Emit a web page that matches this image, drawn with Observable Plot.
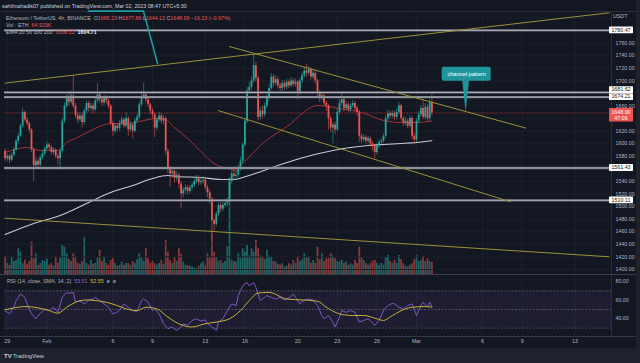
<!DOCTYPE html>
<html>
<head>
<meta charset="utf-8">
<script src="https://cdn.jsdelivr.net/npm/d3@7"></script>
<script src="https://cdn.jsdelivr.net/npm/@observablehq/plot@0.6"></script>
<style>
  html, body { margin:0; padding:0; background:#1e222d; }
  #root { position:relative; width:640px; height:363px; overflow:hidden; background:#1e222d; font-family:"Liberation Sans", Arial, sans-serif; }
  #pane { position:absolute; left:0; top:0; width:636px; height:348px; background:#131722; }
  .layer { position:absolute; left:0; }
  .layer svg { display:block; overflow:visible; }
  .txt { position:absolute; white-space:nowrap; font-size:5.3px; line-height:6px; color:#b2b5be; }
  .r { color:#ef5350; }
  .w { color:#e8e9ec; font-weight:bold; }
  .p { color:#8e6bd0; }
  .yl { color:#d4c13c; }
  .sep { position:absolute; background:#2a2e39; }
</style>
</head>
<body>
<div id="root">
  <div id="pane"></div>
  <div class="sep" style="left:0;top:11px;width:636px;height:1px"></div>
  <div class="sep" style="left:611px;top:11px;width:1px;height:326px"></div>
  <div class="sep" style="left:0;top:274px;width:636px;height:1px;background:#3b3f4b"></div>
  <div class="sep" style="left:0;top:336px;width:636px;height:1px;background:#343844"></div>
  <div class="layer" id="vol" style="top:0"></div>
  <div class="layer" id="main" style="top:0"></div>
  <div class="layer" id="rsi" style="top:275px"></div>
  <div class="txt" id="pub" style="left:2px;top:3px;color:#d1d4dc"></div>
  <div class="txt" id="leg1" style="left:6px;top:14.5px"></div>
  <div class="txt" id="leg2" style="left:6px;top:21.5px"></div>
  <div class="txt" id="leg3" style="left:6px;top:28.5px"></div>
  <div class="txt" id="usdt" style="left:613px;top:13px">USDT</div>
  <div class="txt" id="rsileg" style="left:7px;top:278px"></div>
  <div class="txt" style="left:4px;top:353px;color:#d1d4dc;font-size:5.6px"><b style="font-size:6px">TV</b> TradingView</div>
</div>
<script>
// ---------------- data ----------------
const startTime = Date.UTC(2023, 0, 28, 20); // first 4h candle shown
const step = 4 * 3600 * 1000;
const firstOpen = 1588;

const closes = [1576,1580,1574,1582,1590,1604,1612,1628,1650,1638,
 1632,1622,1590,1565,1572,1566,1578,1584,1592,1598,
 1594,1586,1590,1580,1576,1588,1636,1660,1672,1666,
 1676,1660,1645,1638,1644,1634,1652,1664,1656,1660,
 1654,1668,1678,1670,1665,1672,1668,1660,1632,1620,
 1628,1624,1632,1638,1628,1640,1622,1630,1620,1636,
 1642,1662,1675,1678,1670,1662,1652,1646,1625,1638,
 1644,1636,1640,1588,1560,1552,1556,1545,1550,1536,
 1520,1526,1530,1524,1530,1534,1540,1546,1538,1540,
 1542,1530,1522,1512,1478,1472,1488,1502,1496,1502,
 1505,1510,1540,1552,1548,1550,1560,1572,1598,1636,
 1684,1690,1700,1724,1704,1642,1652,1646,1660,1672,
 1688,1706,1696,1702,1692,1688,1696,1690,1698,1692,
 1700,1694,1698,1680,1700,1708,1716,1712,1718,1706,
 1712,1700,1680,1672,1676,1664,1660,1640,1625,1630,
 1622,1650,1664,1670,1656,1662,1654,1660,1664,1656,
 1650,1612,1606,1610,1604,1608,1600,1596,1586,1596,
 1602,1604,1612,1640,1648,1644,1648,1642,1650,1660,
 1640,1632,1636,1628,1640,1612,1606,1636,1646,1656,
 1642,1658,1640,1665.23,1648.99];

const highs = [1592,1584,1583,1586,1594,1607,1616,1632,1656,1652,
 1642,1635,1624,1593,1578,1575,1582,1588,1596,1604,
 1601,1597,1594,1592,1584,1592,1640,1665,1678,1680,
 1684,1708,1664,1650,1650,1648,1656,1668,1668,1666,
 1664,1673,1696,1682,1674,1677,1676,1671,1662,1636,
 1632,1632,1637,1643,1641,1648,1643,1635,1633,1640,
 1647,1666,1684,1696,1682,1674,1665,1656,1649,1642,
 1650,1648,1645,1643,1592,1564,1561,1560,1556,1553,
 1540,1531,1535,1534,1534,1538,1544,1550,1549,1546,
 1548,1545,1534,1526,1515,1482,1492,1506,1506,1507,
 1510,1514,1546,1556,1560,1556,1566,1578,1602,1640,
 1690,1698,1706,1743,1730,1708,1658,1660,1665,1678,
 1694,1712,1710,1708,1706,1697,1701,1700,1703,1702,
 1706,1704,1703,1701,1705,1713,1722,1726,1723,1721,
 1718,1716,1703,1684,1681,1679,1668,1663,1644,1634,
 1635,1655,1670,1680,1673,1667,1666,1664,1669,1667,
 1660,1653,1616,1615,1613,1612,1611,1604,1599,1600,
 1606,1608,1616,1645,1654,1652,1653,1652,1656,1666,
 1663,1644,1642,1640,1645,1643,1616,1640,1651,1661,
 1669,1664,1662,1670,1677.86];

const lows = [1571,1572,1568,1571,1579,1588,1600,1610,1625,1634,
 1628,1617,1586,1540,1560,1560,1563,1575,1580,1589,
 1589,1582,1582,1576,1566,1558,1585,1632,1656,1660,
 1662,1656,1640,1632,1634,1625,1630,1648,1650,1652,
 1648,1651,1665,1664,1660,1661,1663,1655,1628,1612,
 1616,1619,1620,1629,1624,1625,1612,1618,1608,1617,
 1632,1639,1659,1670,1665,1657,1646,1640,1610,1621,
 1634,1631,1630,1582,1552,1530,1546,1538,1540,1528,
 1496,1514,1521,1518,1520,1526,1530,1536,1533,1534,
 1536,1526,1514,1504,1462,1461,1468,1484,1490,1492,
 1498,1500,1506,1536,1542,1544,1546,1556,1568,1594,
 1632,1680,1686,1696,1698,1636,1638,1640,1642,1656,
 1668,1684,1690,1692,1687,1683,1684,1685,1686,1688,
 1689,1690,1690,1670,1677,1696,1704,1706,1708,1701,
 1702,1695,1675,1666,1668,1659,1652,1622,1618,1600,
 1615,1619,1646,1660,1651,1652,1649,1650,1656,1651,
 1644,1602,1600,1602,1599,1600,1595,1588,1576,1582,
 1592,1598,1600,1608,1636,1639,1640,1637,1638,1646,
 1636,1627,1628,1624,1625,1606,1598,1602,1632,1642,
 1638,1638,1634,1636,1644.12];

const volumes = [97,60,49,94,70,76,139,121,58,76,
 55,70,175,85,112,49,60,76,70,85,
 50,58,45,94,60,90,157,148,112,80,
 70,112,94,60,55,70,198,58,50,76,
 55,60,90,130,70,94,60,50,76,85,
 60,45,49,67,50,60,58,50,70,60,
 80,112,90,70,139,85,60,70,58,50,
 60,76,55,184,120,76,60,94,70,139,
 110,67,50,49,45,40,35,31,45,58,
 67,50,112,90,238,120,94,70,76,60,
 70,150,520,76,70,67,112,90,139,120,
 157,100,139,120,184,139,100,94,80,130,
 100,94,70,67,55,50,58,40,45,58,
 50,76,60,94,70,80,112,90,94,60,
 76,60,148,80,112,70,85,90,112,100,
 85,70,67,76,60,67,50,58,50,76,
 60,148,90,76,58,50,58,70,76,60,
 49,60,50,94,103,70,60,76,60,103,
 80,58,45,40,50,58,80,103,70,76,
 94,70,85,70,64.919];

const ema50Idx = [0,10,16,24,28,33,39,48,56,63,69,72,77,83,89,95,101,105,108,113,117,124,130,134,142,147,152,162,172,180,187,194];
const ema50Val = [1586.1,1594.1,1589.3,1589.3,1602,1610,1621.1,1632.3,1632.3,1637,1640.2,1640.2,1625.9,1608.4,1587.7,1568.6,1560.7,1557.5,1568.6,1586.1,1600.4,1617.9,1632.3,1645,1660.9,1659.3,1656.1,1649.8,1637,1633.9,1633.9,1636.12];
const ema200Idx = [0,13,25,37,48,58,67,74,78,89,98,104,108,115,124,134,149,157,165,172,180,187,194];
const ema200Val = [1455.7,1473.2,1485.9,1505,1522.5,1533.6,1544.8,1549.5,1548,1546.4,1543.2,1543.2,1546.4,1554.3,1565.4,1576.6,1589.3,1594.1,1597.3,1598.9,1600.4,1602,1604.71];

const rsiIdx = [0,2,4,5,7,9,10,12,14,15,16,18,20,22,24,26,28,29,31,32,34,36,38,40,41,43,45,47,49,51,53,54,56,58,60,62,63,65,67,68,70,72,74,76,78,80,81,83,85,87,89,91,92,94,96,97,99,101,103,105,106,108,110,111,113,114,116,118,119,121,123,125,127,129,131,132,134,136,138,140,142,144,145,147,149,150,152,153,155,157,159,161,163,165,166,168,170,172,174,176,177,179,181,183,185,187,189,190,192,193,194];
const rsiVal = [48.8,45.3,52.4,59.5,66.5,63,56,45.3,40,43.5,45.3,50.6,48.8,52.4,47,63,68.3,67.3,68.3,57.7,59.5,56,60.2,61.2,63,59.5,56,52.4,45.3,47,52.4,56,52.4,48.8,48,59.5,61.2,57.7,48.8,50.6,45.3,34.7,29.4,31.2,27.6,31.2,34.7,33,38.2,40,37.5,38.9,34.7,31.2,27.6,36.5,40,48.8,56,54.2,64.8,75.4,78.9,75.4,78.9,73.6,59.5,63,64.8,63,61.2,63,60.2,62.3,66.5,63,56,60.2,61.2,60.2,54.2,43.5,40,43.5,36.5,31.2,41.8,48.8,47,48.8,47,36.5,38.2,40,38.2,33,38.2,48.8,54.2,56.6,56,52.4,50.6,54.2,56,43.5,54.2,57.7,52.4,57.7,53.51];
const smaIdx = [0,4,9,15,20,24,28,32,37,41,46,51,55,60,64,69,74,80,85,91,96,102,107,111,115,120,128,135,142,146,152,158,163,169,172,176,182,185,191,194];
const smaVal = [49.6,51.7,53.1,51.7,48.8,46,52.4,57.7,60.2,59.5,57.7,54.2,50.6,48.8,52.4,50.6,41.8,33.6,31.2,34.7,36.5,40,48.8,59.5,67.6,68.3,61.2,60.2,58.8,52.4,45.3,43.5,43.5,40,38.2,43.5,50.6,52.4,53.1,52.55];

const levels = [1780.47, 1681.62, 1674.21, 1561.43, 1510.11];
const priceTicks = [1400,1420,1440,1460,1480,1500,1520,1540,1580,1600,1620,1660,1700,1720,1740,1760];
const gridPrices = [1400,1420,1440,1460,1480,1500,1520,1540,1560,1580,1600,1620,1640,1660,1680,1700,1720,1740,1760,1780,1800];
const rsiTicks = [40, 60, 80];
const rsiBands = [70, 50, 30];

const dateTicks = ["2023-01-29","2023-02-01","2023-02-06","2023-02-09","2023-02-13","2023-02-16","2023-02-20","2023-02-23","2023-02-26","2023-03-01","2023-03-06","2023-03-09","2023-03-13"];
const dateLabels = ["29","Feb","6","9","13","16","20","23","26","Mar","6","9","13"];

// drawings (trend lines: start / end in time & price)
const trendT1 = ["2023-01-28T18:58Z","2023-01-28T18:58Z","2023-02-14T19:12Z","2023-02-13T23:17Z"];
const trendP1 = [1696.4, 1481.6, 1754.8, 1652.9];
const trendT2 = ["2023-03-15T14:53Z","2023-03-15T14:53Z","2023-03-09T07:26Z","2023-03-08T02:53Z"];
const trendP2 = [1808.4, 1420.2, 1624.8, 1507.7];
const calloutAT = ["2023-02-04T03:36Z","2023-02-08T07:41Z","2023-02-09T09:07Z"];
const calloutAP = [1811, 1811, 1727.7];
const boxT = ["2023-03-02T22:43Z","2023-03-06T15:50Z"];
const boxP = [1699.6, 1721.8];
const pointerT = ["2023-03-04T11:05Z","2023-03-04T23:05Z","2023-03-04T17:05Z"];
const pointerP = [1700.5, 1700.5, 1653];
const calloutText = "channel pattern";

const legendOHLC = ["1665.23","1677.86","1644.12","1648.99"];
const legendChange = "−16.23 (−0.97%)";
const volLegend = "64.919K";
const emaLegend = ["1636.12","1604.71"];
const rsiLegend = ["53.51","52.55"];
const countdown = "47:06";

// ---------------- build ----------------
const T = i => new Date(startTime + i * step);
const candles = closes.map((c, i) => {
  const o = i === 0 ? firstOpen : closes[i - 1];
  return {t: T(i), o, c, h: highs[i], l: lows[i], v: volumes[i], up: c >= o};
});
const upC = candles.filter(d => d.up), dnC = candles.filter(d => !d.up);
const ema50 = ema50Idx.map((i, k) => ({t: T(i), v: ema50Val[k]}));
const ema200 = ema200Idx.map((i, k) => ({t: T(i), v: ema200Val[k]}));
const rsiPts = rsiIdx.map((i, k) => ({t: T(i), v: rsiVal[k]}));
const smaPts = smaIdx.map((i, k) => ({t: T(i), v: smaVal[k]}));
const trends = trendT1.map((t, k) => ({x1: new Date(t), y1: trendP1[k], x2: new Date(trendT2[k]), y2: trendP2[k]}));
const calloutA = calloutAT.map((t, k) => ({t: new Date(t), p: calloutAP[k]}));
const pointer = pointerT.map((t, k) => ({t: new Date(t), p: pointerP[k]}));
const box = [{x1: new Date(boxT[0]), x2: new Date(boxT[1]), y1: boxP[0], y2: boxP[1]}];
const boxCenter = [{t: new Date((+new Date(boxT[0]) + +new Date(boxT[1])) / 2), p: (boxP[0] + boxP[1]) / 2}];
const tickDates = dateTicks.map(s => new Date(s + "T00:00Z"));
const labelMap = new Map(tickDates.map((d, i) => [+d, dateLabels[i]]));

const xDomain = [new Date(Date.UTC(2023,0,28,18,55)), new Date(Date.UTC(2023,2,15,18,33))];
const font = "Liberation Sans, Arial, sans-serif";
const GREEN = "#26a69a", RED = "#ef5350";

const volPlot = Plot.plot({
  width: 640, height: 275, marginLeft: 4, marginRight: 29, marginTop: 12, marginBottom: 1,
  style: {background: "transparent"},
  x: {type: "utc", domain: xDomain, axis: null},
  y: {domain: [0, 1415], axis: null},
  marks: [
    Plot.ruleX(tickDates, {stroke: "#1c202b"}),
    Plot.ruleX(upC, {x: "t", y1: 0, y2: "v", stroke: GREEN, strokeOpacity: 0.55, strokeWidth: 1.8}),
    Plot.ruleX(dnC, {x: "t", y1: 0, y2: "v", stroke: RED, strokeOpacity: 0.55, strokeWidth: 1.8})
  ]
});
document.getElementById("vol").append(volPlot);

const mainPlot = Plot.plot({
  width: 640, height: 275, marginLeft: 4, marginRight: 29, marginTop: 12, marginBottom: 1,
  style: {background: "transparent", color: "#b2b5be", fontSize: "5.3px", fontFamily: font},
  x: {type: "utc", domain: xDomain, axis: null},
  y: {domain: [1392.05, 1808.8], axis: "right", ticks: priceTicks, tickFormat: d => d.toFixed(2), tickSize: 0, tickPadding: 4, label: null},
  marks: [
    Plot.ruleY(gridPrices, {stroke: "#1c202b"}),
    Plot.ruleY([closes[closes.length - 1]], {stroke: "#8a2d34", strokeDasharray: "1.5,1"}),
    Plot.line(ema200, {x: "t", y: "v", stroke: "#c9ccd4", strokeWidth: 1.1, curve: "monotone-x"}),
    Plot.line(ema50, {x: "t", y: "v", stroke: "#a8303b", strokeWidth: 1, curve: "monotone-x"}),
    Plot.ruleX(upC, {x: "t", y1: "l", y2: "h", stroke: GREEN, strokeWidth: 0.6}),
    Plot.ruleX(dnC, {x: "t", y1: "l", y2: "h", stroke: RED, strokeWidth: 0.6}),
    Plot.ruleX(upC, {x: "t", y1: "o", y2: "c", stroke: GREEN, strokeWidth: 1.8}),
    Plot.ruleX(dnC, {x: "t", y1: "o", y2: "c", stroke: RED, strokeWidth: 1.8}),
    Plot.ruleY(levels, {stroke: "#6a6d78", strokeWidth: 2.3}),
    Plot.ruleY(levels, {stroke: "#c6c8ce", strokeWidth: 0.8}),
    Plot.link(trends, {x1: "x1", y1: "y1", x2: "x2", y2: "y2", stroke: "#9a9135", strokeWidth: 1}),
    Plot.line(calloutA, {x: "t", y: "p", stroke: "#1f9aa0", strokeWidth: 1.6}),
    Plot.line(pointer, {x: "t", y: "p", fill: "#1f959b", stroke: "#1f959b", strokeWidth: 0.5}),
    Plot.rect(box, {x1: "x1", x2: "x2", y1: "y1", y2: "y2", fill: "#1f959b", rx: 2}),
    Plot.text(boxCenter, {x: "t", y: "p", text: () => calloutText, fill: "#ffffff", fontSize: 5.6})
  ]
});
document.getElementById("main").append(mainPlot);

// price-axis label boxes, positioned with the plot's own y scale
(function () {
  const s = mainPlot.scale("y");
  const yf = s.apply ? v => s.apply(v) : d3.scaleLinear(s.domain, s.range);
  const svg = d3.select(mainPlot);
  const boxes = levels.map(v => ({v, y: yf(v)})).sort((a, b) => b.y - a.y);
  for (let i = 1; i < boxes.length; i++) {
    if (boxes[i - 1].y - boxes[i].y < 7) boxes[i].y = boxes[i - 1].y - 7;
  }
  const g = svg.append("g").attr("font-family", font).attr("font-size", 5.3);
  boxes.forEach(b => {
    g.append("rect").attr("x", 609).attr("y", b.y - 3.4).attr("width", 24).attr("height", 6.8).attr("fill", "#ffffff").attr("rx", 0.6);
    g.append("text").attr("x", 621).attr("y", b.y).attr("dy", "0.35em").attr("text-anchor", "middle").attr("fill", "#131722").text(b.v.toFixed(2));
  });
  const last = closes[closes.length - 1];
  const py = yf(last);
  g.append("rect").attr("x", 609).attr("y", py - 4.4).attr("width", 24).attr("height", 13.4).attr("fill", RED).attr("rx", 0.6);
  g.append("text").attr("x", 621).attr("y", py).attr("dy", "0.35em").attr("text-anchor", "middle").attr("fill", "#ffffff").text(last.toFixed(2));
  g.append("text").attr("x", 621).attr("y", py + 5.6).attr("dy", "0.35em").attr("text-anchor", "middle").attr("fill", "#ffffff").text(countdown);
})();

const rsiPlot = Plot.plot({
  width: 640, height: 73, marginLeft: 4, marginRight: 29, marginTop: 1, marginBottom: 12,
  style: {background: "transparent", color: "#b2b5be", fontSize: "5.3px", fontFamily: font},
  x: {type: "utc", domain: xDomain, ticks: tickDates, tickFormat: d => labelMap.get(+d) || "", tickSize: 0, tickPadding: 3, label: null},
  y: {domain: [21.0, 85.36], axis: "right", ticks: rsiTicks, tickFormat: d => d.toFixed(2), tickSize: 0, tickPadding: 4, label: null},
  marks: [
    Plot.ruleX(tickDates, {stroke: "#1c202b"}),
    Plot.rect([{}], {x1: xDomain[0], x2: xDomain[1], y1: rsiBands[2], y2: rsiBands[0], fill: "#7e57c2", fillOpacity: 0.1}),
    Plot.ruleY(rsiBands, {stroke: "#787b86", strokeOpacity: 0.7, strokeDasharray: "2,1.5", strokeWidth: 0.8}),
    Plot.line(rsiPts, {x: "t", y: "v", stroke: "#7e57c2", strokeWidth: 1}),
    Plot.line(smaPts, {x: "t", y: "v", stroke: "#c4b33a", strokeWidth: 1, curve: "monotone-x"})
  ]
});
document.getElementById("rsi").append(rsiPlot);

// legend texts
document.getElementById("pub").textContent = "sahilmahadik07 published on TradingView.com, Mar 02, 2023 08:47 UTC+5:30";
document.getElementById("leg1").innerHTML =
  "Ethereum / TetherUS, 4h, BINANCE&nbsp; O<span class='r'>" + legendOHLC[0] + "</span> H<span class='r'>" + legendOHLC[1] +
  "</span> L<span class='r'>" + legendOHLC[2] + "</span> C<span class='r'>" + legendOHLC[3] + " " + legendChange + "</span>";
document.getElementById("leg2").innerHTML = "Vol · ETH&nbsp; <span class='r'>" + volLegend + "</span>";
document.getElementById("leg3").innerHTML = "EMA 20 50 100 200&nbsp; <span class='r'>" + emaLegend[0] + "</span>&nbsp; <span class='w'>" + emaLegend[1] + "</span>";
document.getElementById("rsileg").innerHTML = "RSI (14, close, SMA, 14, 2)&nbsp; <span class='p'>" + rsiLegend[0] + "</span>&nbsp; <span class='yl'>" + rsiLegend[1] + "</span>&nbsp; ø&nbsp; ø";
</script>
</body>
</html>
